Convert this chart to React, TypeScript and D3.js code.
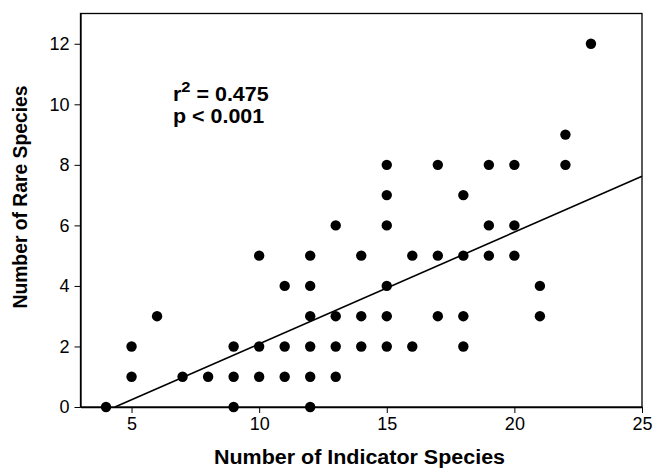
import { useRef, useEffect } from 'react';
import * as d3 from 'd3';

// Indicator species (x) vs rare species (y), one entry per plot
const indicatorCounts = [4, 5, 5, 6, 7, 8, 9, 9, 9, 10, 10, 10, 11, 11, 11, 12, 12, 12, 12, 12, 12, 13, 13, 13, 13, 14, 14, 14, 15, 15, 15, 15, 15, 15, 16, 16, 17, 17, 17, 18, 18, 18, 18, 19, 19, 19, 20, 20, 20, 21, 21, 22, 22, 23];
const rareCounts = [0, 1, 2, 3, 1, 1, 0, 1, 2, 1, 2, 5, 1, 2, 4, 0, 1, 2, 3, 4, 5, 1, 2, 3, 6, 2, 3, 5, 2, 3, 4, 6, 7, 8, 2, 5, 3, 5, 8, 2, 3, 5, 7, 5, 6, 8, 5, 6, 8, 3, 4, 8, 9, 12];

const xTicks = [5, 10, 15, 20, 25];
const yTicks = [0, 2, 4, 6, 8, 10, 12];

// fitted regression line
const fitSlope = 0.369;
const fitIntercept = -1.605;
const fitStart = 4.35;
const fitEnd = 25;

export default function App() {
  const svgRef = useRef<SVGSVGElement>(null);

  useEffect(() => {
    const width = 654;
    const height = 468;
    const margin = { top: 13.5, right: 12, bottom: 61, left: 80.5 };

    const svg = d3.select(svgRef.current);
    svg.selectAll('*').remove();
    svg.attr('viewBox', `0 0 ${width} ${height}`);

    const x = d3.scaleLinear().domain([3, 25]).range([margin.left, width - margin.right]);
    const y = d3.scaleLinear().domain([0, 13]).range([height - margin.bottom, margin.top]);

    const font = 'Arial, "Liberation Sans", Helvetica, sans-serif';

    // frame
    svg.append('rect')
      .attr('x', x(3))
      .attr('y', y(13))
      .attr('width', x(25) - x(3))
      .attr('height', y(0) - y(13))
      .attr('fill', 'none')
      .attr('stroke', '#000')
      .attr('stroke-width', 1.3);

    const xAxis = svg.append('g')
      .attr('transform', `translate(0,${y(0)})`)
      .call(d3.axisBottom(x).tickValues(xTicks).tickSize(6).tickPadding(4).tickSizeOuter(0));
    xAxis.select('.domain').attr('stroke-width', 1.3);
    xAxis.selectAll('text').style('font-family', font).style('font-size', '18px').attr('fill', '#000');

    const yAxis = svg.append('g')
      .attr('transform', `translate(${x(3)},0)`)
      .call(d3.axisLeft(y).tickValues(yTicks).tickSize(6).tickPadding(5).tickSizeOuter(0));
    yAxis.select('.domain').attr('stroke-width', 1.3);
    yAxis.selectAll('text').style('font-family', font).style('font-size', '18px').attr('fill', '#000');

    // regression line
    svg.append('line')
      .attr('x1', x(fitStart))
      .attr('y1', y(fitSlope * fitStart + fitIntercept))
      .attr('x2', x(fitEnd))
      .attr('y2', y(fitSlope * fitEnd + fitIntercept))
      .attr('stroke', '#000')
      .attr('stroke-width', 1.6);

    svg.append('g')
      .selectAll('circle')
      .data(indicatorCounts.map((v, i) => [v, rareCounts[i]]))
      .enter()
      .append('circle')
      .attr('cx', d => x(d[0]))
      .attr('cy', d => y(d[1]))
      .attr('r', 5.2)
      .attr('fill', '#000');

    // stats annotation
    const stats = svg.append('g')
      .attr('transform', 'translate(173,0) scale(1.1,1)')
      .style('font-family', font)
      .style('font-weight', 'bold')
      .style('font-size', '19.5px');
    const r2 = stats.append('text').attr('x', 0).attr('y', 101);
    r2.append('tspan').text('r');
    r2.append('tspan').attr('dy', -9).style('font-size', '15px').text('2');
    r2.append('tspan').attr('dy', 9).text(' = 0.475');
    stats.append('text').attr('x', 0).attr('y', 123).text('p < 0.001');

    // axis titles
    svg.append('text')
      .attr('x', 359.5)
      .attr('y', 464)
      .attr('text-anchor', 'middle')
      .attr('textLength', 291)
      .attr('lengthAdjust', 'spacingAndGlyphs')
      .style('font-family', font)
      .style('font-weight', 'bold')
      .style('font-size', '20px')
      .text('Number of Indicator Species');

    svg.append('text')
      .attr('transform', 'translate(27,197) rotate(-90)')
      .attr('text-anchor', 'middle')
      .attr('textLength', 223)
      .attr('lengthAdjust', 'spacingAndGlyphs')
      .style('font-family', font)
      .style('font-weight', 'bold')
      .style('font-size', '20px')
      .text('Number of Rare Species');
  }, []);

  return (
    <svg
      ref={svgRef}
      width={654}
      height={468}
      style={{ position: 'absolute', left: 0, top: 0, background: '#fff' }}
    />
  );
}
